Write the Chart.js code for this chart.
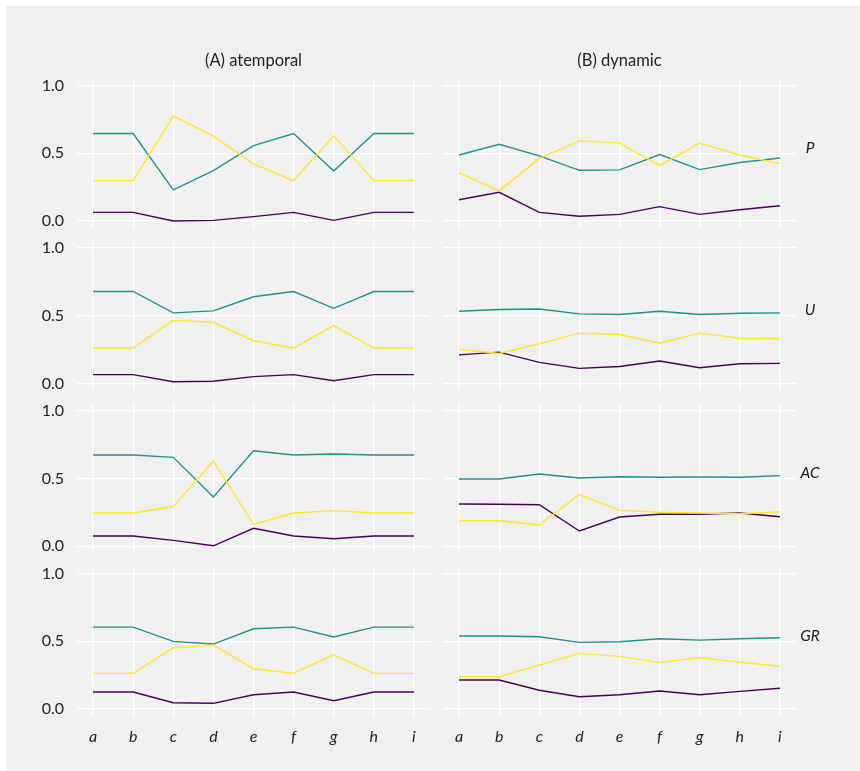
<!DOCTYPE html>
<html>
<head>
<meta charset="utf-8">
<script src="https://cdn.jsdelivr.net/npm/chart.js@4"></script>
<style>
  html, body { margin: 0; padding: 0; background: #ffffff; }
  #frame { position: absolute; left: 6px; top: 6px; width: 854px; height: 765px; background: #f0f0f0; }
  canvas { position: absolute; }
</style>
</head>
<body>
<div id="frame"></div>
<script>
// Categories along the x axis and tick values on y
const categories = ['a', 'b', 'c', 'd', 'e', 'f', 'g', 'h', 'i'];
const yTickValues = [0, 0.5, 1.0];
const columnTitles = ['(A) atemporal', '(B) dynamic'];
const rowLabels = ['P', 'U', 'AC', 'GR'];
const seriesColors = ['#440154', '#21908C', '#FDE725'];

// (A) atemporal — three shares per category
const atemporalP1 = [0.064, 0.064, 0.000, 0.005, 0.032, 0.064, 0.005, 0.064, 0.064];
const atemporalP2 = [0.645, 0.645, 0.229, 0.372, 0.556, 0.645, 0.369, 0.645, 0.645];
const atemporalP3 = [0.298, 0.298, 0.773, 0.626, 0.421, 0.298, 0.628, 0.298, 0.298];

const atemporalU1 = [0.067, 0.067, 0.015, 0.018, 0.052, 0.067, 0.022, 0.067, 0.067];
const atemporalU2 = [0.680, 0.680, 0.522, 0.537, 0.641, 0.680, 0.556, 0.680, 0.680];
const atemporalU3 = [0.263, 0.263, 0.467, 0.453, 0.317, 0.263, 0.428, 0.263, 0.263];

const atemporalAC1 = [0.076, 0.076, 0.044, 0.004, 0.133, 0.076, 0.056, 0.076, 0.076];
const atemporalAC2 = [0.673, 0.673, 0.656, 0.364, 0.705, 0.673, 0.681, 0.673, 0.673];
const atemporalAC3 = [0.246, 0.246, 0.292, 0.629, 0.162, 0.246, 0.263, 0.246, 0.246];

const atemporalGR1 = [0.125, 0.125, 0.046, 0.042, 0.105, 0.125, 0.061, 0.125, 0.125];
const atemporalGR2 = [0.604, 0.604, 0.499, 0.479, 0.592, 0.604, 0.531, 0.604, 0.604];
const atemporalGR3 = [0.263, 0.263, 0.450, 0.472, 0.297, 0.263, 0.400, 0.263, 0.263];

// (B) dynamic
const dynamicP1 = [0.157, 0.212, 0.064, 0.035, 0.049, 0.106, 0.049, 0.083, 0.113];
const dynamicP2 = [0.487, 0.566, 0.480, 0.374, 0.377, 0.490, 0.379, 0.431, 0.465];
const dynamicP3 = [0.357, 0.222, 0.460, 0.591, 0.576, 0.408, 0.574, 0.487, 0.423];

const dynamicU1 = [0.213, 0.233, 0.157, 0.113, 0.127, 0.167, 0.118, 0.147, 0.150];
const dynamicU2 = [0.534, 0.547, 0.551, 0.515, 0.510, 0.534, 0.510, 0.520, 0.522];
const dynamicU3 = [0.255, 0.223, 0.294, 0.373, 0.363, 0.299, 0.373, 0.336, 0.331];

const dynamicAC1 = [0.312, 0.310, 0.307, 0.113, 0.216, 0.236, 0.236, 0.246, 0.218];
const dynamicAC2 = [0.496, 0.496, 0.533, 0.504, 0.513, 0.509, 0.511, 0.509, 0.521];
const dynamicAC3 = [0.189, 0.189, 0.157, 0.381, 0.265, 0.251, 0.246, 0.240, 0.255];

const dynamicGR1 = [0.214, 0.214, 0.138, 0.091, 0.105, 0.133, 0.105, 0.130, 0.153];
const dynamicGR2 = [0.538, 0.538, 0.533, 0.491, 0.496, 0.518, 0.508, 0.518, 0.525];
const dynamicGR3 = [0.238, 0.238, 0.324, 0.410, 0.388, 0.344, 0.378, 0.346, 0.315];

// Panel grid: [column][row] -> three series
const panelSeries = [
  [[atemporalP1, atemporalP2, atemporalP3], [atemporalU1, atemporalU2, atemporalU3],
   [atemporalAC1, atemporalAC2, atemporalAC3], [atemporalGR1, atemporalGR2, atemporalGR3]],
  [[dynamicP1, dynamicP2, dynamicP3], [dynamicU1, dynamicU2, dynamicU3],
   [dynamicAC1, dynamicAC2, dynamicAC3], [dynamicGR1, dynamicGR2, dynamicGR3]]
];

// Page layout (pixels)
const PAGE_W = 860, PAGE_H = 771;
const panelLeft = [77, 443];
const panelW = 353;
const rowTop = [78.6, 241.3, 403.9, 566.6];
const panelH = 149.2;
const FONT = 'Lato, "Open Sans", sans-serif';
const TEXT = '#222222';
const TITLE_SIZE = 16.5;

const stripLabel = {
  id: 'stripLabel',
  afterDraw(chart, args, opts) {
    if (!opts.text) return;
    const { ctx, chartArea } = chart;
    ctx.save();
    ctx.font = 'italic 15.5px ' + FONT;
    ctx.fillStyle = TEXT;
    ctx.textAlign = 'center';
    ctx.textBaseline = 'middle';
    ctx.fillText(opts.text, chartArea.right + 14, chartArea.top + 69);
    ctx.restore();
  }
};

function noOverflowPadding(s) {
  s.paddingTop = 0;
  s.paddingBottom = 0;
  s.paddingLeft = 0;
  s.paddingRight = 0;
}

function makePanel(col, row) {
  const canvasLeft = col === 0 ? 6 : 443;
  const canvasRight = col === 0 ? 430 : PAGE_W;
  const canvasTop = row === 0 ? 30 : Math.floor(rowTop[row]);
  const areaBottom = rowTop[row] + panelH;
  const canvasBottom = row === 3 ? PAGE_H : Math.ceil(areaBottom);
  const xAxisH = row === 3 ? canvasBottom - areaBottom : 0;

  const canvas = document.createElement('canvas');
  canvas.width = canvasRight - canvasLeft;
  canvas.height = canvasBottom - canvasTop;
  canvas.style.left = canvasLeft + 'px';
  canvas.style.top = canvasTop + 'px';
  canvas.style.width = canvas.width + 'px';
  canvas.style.height = canvas.height + 'px';
  document.body.appendChild(canvas);

  const titleLine = TITLE_SIZE * 1.2;
  const titleTop = 60.5 - canvasTop - titleLine / 2;
  const titleBottom = rowTop[0] - canvasTop - titleTop - titleLine;

  const series = panelSeries[col][row];
  const datasets = series.map((vals, k) => ({
    data: vals.map((v, i) => ({ x: i, y: v })),
    borderColor: seriesColors[k],
    borderWidth: 1.4,
    pointRadius: 0,
    tension: 0,
    fill: false,
    order: 2 - k
  }));

  new Chart(canvas, {
    type: 'line',
    data: { datasets },
    options: {
      responsive: false,
      animation: false,
      devicePixelRatio: 1,
      layout: {
        padding: {
          top: row === 0 ? 0 : rowTop[row] - canvasTop,
          bottom: row === 3 ? 0 : canvasBottom - areaBottom,
          left: 0,
          right: col === 0 ? 0 : canvasRight - (panelLeft[1] + panelW)
        }
      },
      plugins: {
        legend: { display: false },
        tooltip: { enabled: false },
        title: {
          display: row === 0,
          text: columnTitles[col],
          fullSize: false,
          color: TEXT,
          font: { family: FONT, size: TITLE_SIZE, weight: 'normal', lineHeight: 1.2 },
          padding: { top: titleTop, bottom: titleBottom }
        },
        stripLabel: { text: col === 1 ? rowLabels[row] : '' }
      },
      scales: {
        x: {
          type: 'linear',
          min: -0.4,
          max: 8.4,
          border: { display: false },
          grid: { color: '#ffffff', lineWidth: 1.2, drawTicks: false },
          afterBuildTicks: s => { s.ticks = categories.map((c, i) => ({ value: i })); },
          afterFit: s => { s.height = xAxisH; noOverflowPadding(s); },
          ticks: {
            display: row === 3,
            padding: 11,
            color: TEXT,
            font: { family: FONT, size: 16, style: 'italic' },
            callback: v => categories[v]
          }
        },
        y: {
          type: 'linear',
          min: -0.05,
          max: 1.05,
          border: { display: false },
          grid: { color: '#ffffff', lineWidth: 1.2, drawTicks: false },
          afterBuildTicks: s => { s.ticks = yTickValues.map(v => ({ value: v })); },
          afterFit: s => { s.width = col === 0 ? panelLeft[0] - canvasLeft : 0; noOverflowPadding(s); },
          ticks: {
            display: col === 0,
            padding: 13,
            color: TEXT,
            font: { family: FONT, size: 16 },
            callback: v => Number(v).toFixed(1)
          }
        }
      }
    },
    plugins: [stripLabel]
  });
}

for (let col = 0; col < 2; col++) {
  for (let row = 0; row < 4; row++) makePanel(col, row);
}
</script>
</body>
</html>
